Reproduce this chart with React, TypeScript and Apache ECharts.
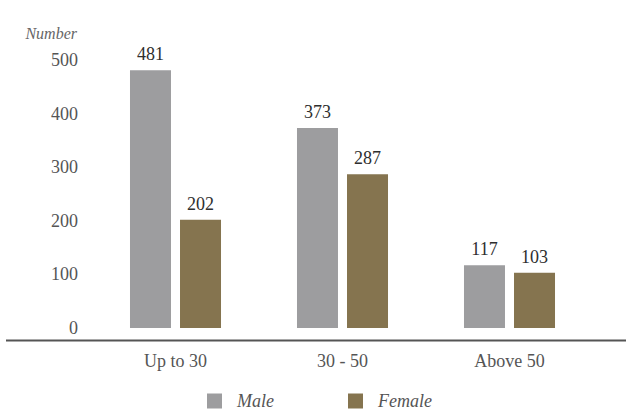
import React, { useEffect, useRef } from "react";
import * as echarts from "echarts";

const categories = ["Up to 30", "30 - 50", "Above 50"];
const maleValues = [481, 373, 117];
const femaleValues = [202, 287, 103];
const yTicks = [0, 100, 200, 300, 400, 500];

const FONT = "'Liberation Serif', serif";

export default function App() {
  const ref = useRef<HTMLDivElement>(null);
  useEffect(() => {
    document.body.style.margin = "0";
    if (!ref.current) return;
    const chart = echarts.init(ref.current, null, { renderer: "svg" });
    const labelStyle = {
      show: true,
      position: "top",
      distance: 7,
      fontSize: 18,
      color: "#2e2e2e",
      fontFamily: FONT,
      fontWeight: "normal",
    };
    chart.setOption({
      animation: false,
      textStyle: { fontFamily: FONT },
      grid: { left: 92, right: 33, top: 60, bottom: 83 },
      legend: {
        left: 207,
        top: 392,
        padding: 0,
        itemWidth: 15,
        itemHeight: 15,
        itemGap: 74,
        icon: "rect",
        data: ["Male", "Female"],
        textStyle: {
          fontFamily: FONT,
          fontStyle: "italic",
          fontSize: 18,
          color: "#555",
          padding: [0, 0, 0, 10],
        },
      },
      graphic: [
        {
          type: "line",
          shape: { x1: 6, y1: 340.5, x2: 626, y2: 340.5 },
          style: { stroke: "#555", lineWidth: 2 },
        },
        {
          type: "text",
          x: 77,
          y: 33,
          style: {
            text: "Number",
            align: "right",
            verticalAlign: "middle",
            font: `italic 16px ${FONT}`,
            fill: "#666",
          },
        },
      ],
      xAxis: {
        type: "category",
        data: categories,
        axisLine: { show: false },
        axisTick: { show: false },
        axisLabel: { margin: 24, fontSize: 18, color: "#555", fontFamily: FONT },
      },
      yAxis: {
        type: "value",
        min: yTicks[0],
        max: yTicks[yTicks.length - 1],
        interval: 100,
        splitLine: { show: false },
        axisLine: { show: false },
        axisTick: { show: false },
        axisLabel: { margin: 14, fontSize: 18, color: "#555", fontFamily: FONT },
      },
      series: [
        {
          name: "Male",
          type: "bar",
          data: maleValues,
          barWidth: 41,
          barGap: "22%",
          itemStyle: { color: "#9d9d9f" },
          label: labelStyle,
        },
        {
          name: "Female",
          type: "bar",
          data: femaleValues,
          barWidth: 41,
          itemStyle: { color: "#85744f" },
          label: labelStyle,
        },
      ],
    });
    return () => chart.dispose();
  }, []);
  return <div ref={ref} style={{ width: 626, height: 411 }} />;
}
